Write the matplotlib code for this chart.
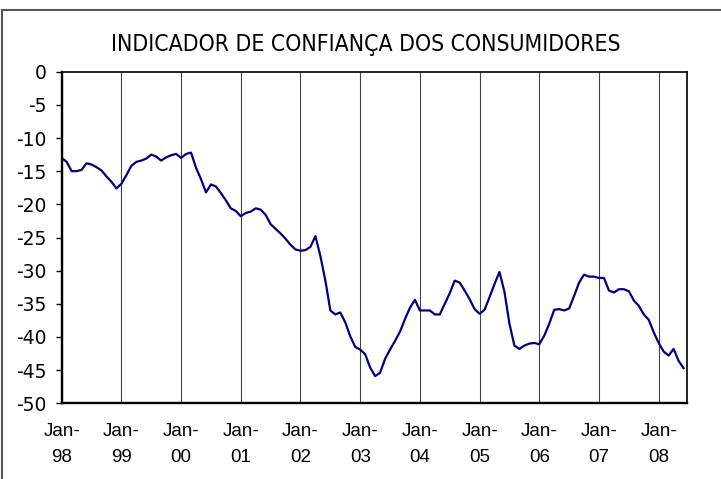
import matplotlib
matplotlib.use("Agg")
import matplotlib.pyplot as plt
from matplotlib import font_manager as fm
from matplotlib.patches import Rectangle

# ---- data (monthly, Jan-98 .. Jun-08) ----
values = [
    -13.0, -13.6, -15.0, -15.0, -14.8, -13.8, -14.0, -14.4, -14.9, -15.8, -16.6, -17.6,   # 1998
    -16.9, -15.6, -14.2, -13.6, -13.4, -13.1, -12.5, -12.8, -13.4, -12.9, -12.6, -12.4,   # 1999
    -13.0, -12.4, -12.2, -14.5, -16.2, -18.2, -17.0, -17.3, -18.3, -19.4, -20.6, -21.0,   # 2000
    -21.8, -21.3, -21.1, -20.6, -20.8, -21.6, -23.0, -23.7, -24.4, -25.2, -26.1, -26.8,   # 2001
    -27.0, -26.9, -26.4, -24.8, -27.8, -31.5, -36.0, -36.6, -36.3, -37.8, -39.9, -41.5,   # 2002
    -41.9, -42.6, -44.6, -45.9, -45.4, -43.3, -41.9, -40.6, -39.2, -37.3, -35.6, -34.4,   # 2003
    -36.0, -36.0, -36.0, -36.6, -36.6, -35.0, -33.4, -31.5, -31.8, -33.0, -34.3, -35.8,   # 2004
    -36.5, -35.9, -34.0, -32.0, -30.2, -33.2, -38.0, -41.3, -41.8, -41.3, -41.0, -40.9,   # 2005
    -41.1, -39.8, -38.0, -35.9, -35.8, -36.0, -35.7, -33.8, -31.8, -30.6, -30.9, -30.9,   # 2006
    -31.1, -31.1, -33.0, -33.3, -32.8, -32.8, -33.1, -34.5, -35.3, -36.6, -37.4, -39.3,   # 2007
    -40.9, -42.2, -42.8, -41.8, -43.6, -44.7,                                             # 2008
]
months = list(range(len(values)))
year_labels = ["98", "99", "00", "01", "02", "03", "04", "05", "06", "07", "08"]
tick_positions = [12 * i for i in range(len(year_labels))]
tick_texts = ["Jan-\n" + y for y in year_labels]
y_ticks = [0, -5, -10, -15, -20, -25, -30, -35, -40, -45, -50]
title = "INDICADOR DE CONFIANÇA DOS CONSUMIDORES"

# ---- fonts ----
names = {f.name for f in fm.fontManager.ttflist}
title_kw = {}
if "Liberation Sans Narrow" in names:
    title_kw = dict(family="Liberation Sans Narrow", fontsize=19)
elif any(f.name == "DejaVu Sans" and f.stretch in ("condensed", "semi-condensed", 600, 700)
         for f in fm.fontManager.ttflist):
    title_kw = dict(family="DejaVu Sans", fontstretch="condensed", fontsize=16.5)
else:
    title_kw = dict(family="Roboto", fontsize=17)

W, H = 721, 479
fig = plt.figure(figsize=(W / 100, H / 100), dpi=100)
fig.patch.set_facecolor("white")

# outer chart frame (cut off at right/bottom like the reference)
fig.patches.append(Rectangle((2 / W, -0.05), 1.1, 1 - 10 / H + 0.05,
                             transform=fig.transFigure, fill=False,
                             edgecolor="#555555", linewidth=1.5))

left, right = 61.7 / W, 687.3 / W
top, bottom = 1 - 71.7 / H, 1 - 403.3 / H
ax = fig.add_axes([left, bottom, right - left, top - bottom])

ax.plot(months, values, color="#000080", linewidth=1.6, solid_joinstyle="round")

ax.set_xlim(0, 125.75)
ax.set_ylim(-50, 0)

ax.set_yticks(y_ticks)
ax.set_yticklabels([str(v) for v in y_ticks], family="DejaVu Sans", fontsize=13.5)
ax.set_xticks(tick_positions)
ax.set_xticklabels(tick_texts, family="Liberation Sans", fontsize=13.5, linespacing=1.7)

ax.tick_params(axis="y", direction="out", length=4.5, width=1.0, pad=6.5, colors="black")
ax.tick_params(axis="x", length=0, pad=14)

ax.grid(axis="x", color="#444444", linewidth=0.8)
ax.set_axisbelow(True)

for side in ("top", "right"):
    ax.spines[side].set_linewidth(1.2)
for side in ("left", "bottom"):
    ax.spines[side].set_linewidth(1.7)
for s in ax.spines.values():
    s.set_color("black")

fig.text(366 / W, 1 - 44 / H, title, ha="center", va="center", color="black", **title_kw)

fig.savefig("out.png", dpi=100)
